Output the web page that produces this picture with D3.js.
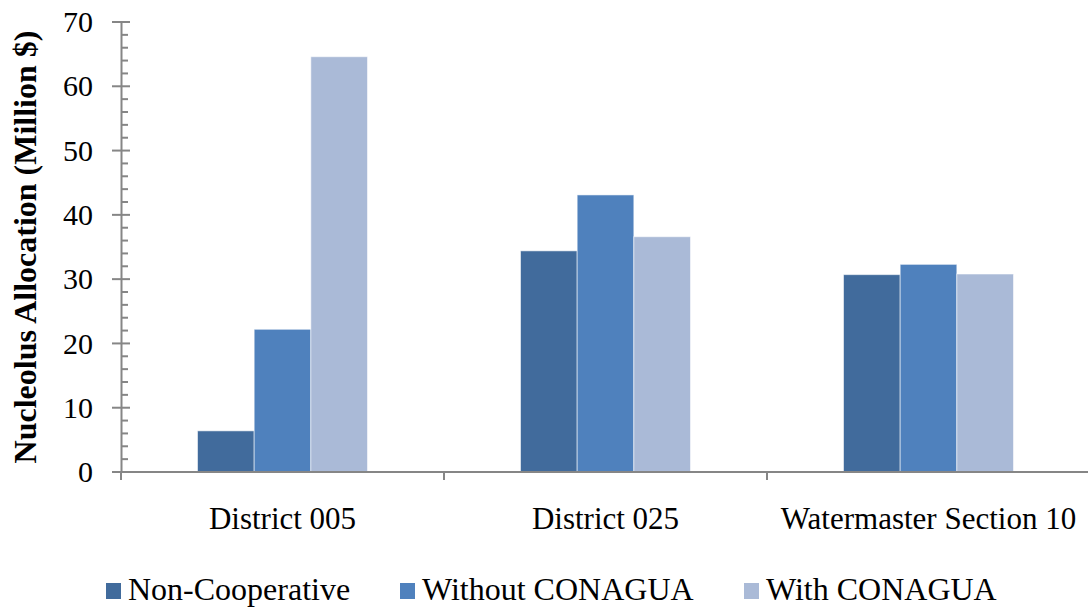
<!DOCTYPE html>
<html><head><meta charset="utf-8">
<script src="https://cdn.jsdelivr.net/npm/d3@7/dist/d3.min.js"></script>
<style>body{margin:0;background:#fff}svg{display:block}</style>
</head><body>
<svg id="c" width="1088" height="609"></svg>
<script>
const categories = ["District 005", "District 025", "Watermaster Section 10"];
const seriesNames = ["Non-Cooperative", "Without CONAGUA", "With CONAGUA"];
const nonCooperative = [6.4, 34.4, 30.7];
const withoutConagua = [22.2, 43.1, 32.3];
const withConagua = [64.6, 36.6, 30.8];
const yTicks = [0, 10, 20, 30, 40, 50, 60, 70];
const colors = ["#416B9C", "#4F81BD", "#AABAD7"];

(function () {
const values = [nonCooperative, withoutConagua, withConagua];
const svg = d3.select("#c");
const font = '"Liberation Serif", "Times New Roman", Tinos, serif';
const mLeft = 121, mRight = 1090, mTop = 22, mBottom = 472;

const x0 = d3.scaleBand().domain(categories).range([mLeft, mRight]).padding(0);
const x1 = d3.scaleBand().domain(seriesNames).range([0, x0.bandwidth()]).paddingInner(0).paddingOuter(1.35);
const y = d3.scaleLinear().domain([0, 70]).range([mBottom, mTop]);

// bars
categories.forEach((c, ci) => {
  seriesNames.forEach((s, si) => {
    svg.append("rect")
      .attr("x", x0(c) + x1(s))
      .attr("y", y(values[si][ci]))
      .attr("width", x1.bandwidth())
      .attr("height", y(0) - y(values[si][ci]))
      .attr("fill", colors[si])
      .attr("stroke", "rgba(255,255,255,0.55)")
      .attr("stroke-width", 1);
  });
});

const axisColor = "#868686";
// y axis
const yAxis = svg.append("g").attr("transform", `translate(${mLeft},0)`)
  .call(d3.axisLeft(y).tickValues(yTicks).tickSize(0).tickPadding(28));
yAxis.attr("font-family", null).attr("font-size", null);
yAxis.select(".domain").attr("stroke", axisColor).attr("stroke-width", 2);
yAxis.selectAll("text").style("font-family", font).style("font-size", "30px").attr("fill", "#000");
// major ticks
svg.append("g").selectAll("line").data(yTicks).join("line")
  .attr("x1", mLeft - 9).attr("x2", mLeft + 9)
  .attr("y1", d => y(d)).attr("y2", d => y(d))
  .attr("stroke", axisColor).attr("stroke-width", 2);
// minor ticks
const minor = d3.range(0, 70, 2).filter(v => v % 10 !== 0);
svg.append("g").selectAll("line").data(minor).join("line")
  .attr("x1", mLeft).attr("x2", mLeft + 7)
  .attr("y1", d => y(d)).attr("y2", d => y(d))
  .attr("stroke", axisColor).attr("stroke-width", 2);

// x axis
svg.append("line").attr("x1", mLeft).attr("x2", 1088).attr("y1", mBottom).attr("y2", mBottom)
  .attr("stroke", axisColor).attr("stroke-width", 2);
svg.append("g").selectAll("line").data(categories).join("line")
  .attr("x1", d => x0(d)).attr("x2", d => x0(d))
  .attr("y1", mBottom).attr("y2", mBottom + 8)
  .attr("stroke", axisColor).attr("stroke-width", 2);
svg.append("g").selectAll("text").data(categories).join("text")
  .attr("x", d => x0(d) + x0.bandwidth() / 2)
  .attr("y", 529)
  .attr("text-anchor", "middle")
  .style("font-family", font).style("font-size", "31px").attr("fill", "#000")
  .text(d => d);

// y title
svg.append("text")
  .attr("transform", "translate(36,247) rotate(-90)")
  .attr("text-anchor", "middle")
  .style("font-family", font).style("font-size", "32px").style("font-weight", "bold").attr("fill", "#000")
  .text("Nucleolus Allocation (Million $)");

// legend
const legendX = [106, 400, 744];
seriesNames.forEach((s, i) => {
  const g = svg.append("g").attr("transform", `translate(${legendX[i]},0)`);
  g.append("rect").attr("x", 0).attr("y", 583).attr("width", 15).attr("height", 16).attr("fill", colors[i]);
  g.append("text").attr("x", 22).attr("y", 600)
    .style("font-family", font).style("font-size", "32px").attr("fill", "#000").text(s);
});
})();
</script>
</body></html>
